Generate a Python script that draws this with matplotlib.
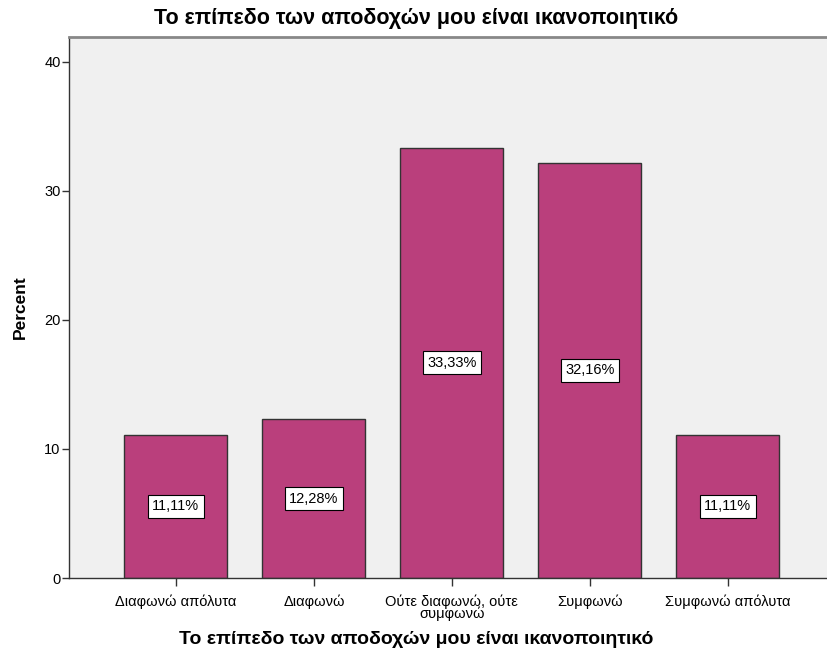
import matplotlib
matplotlib.use("Agg")
import matplotlib.pyplot as plt

categories = ["Διαφωνώ απόλυτα", "Διαφωνώ", "Ούτε διαφωνώ, ούτε\nσυμφωνώ", "Συμφωνώ", "Συμφωνώ απόλυτα"]
percents = [11.11, 12.28, 33.33, 32.16, 11.11]
labels = ["11,11%", "12,28%", "33,33%", "32,16%", "11,11%"]
title = "Το επίπεδο των αποδοχών μου είναι ικανοποιητικό"

plt.rcParams['font.family'] = ['Liberation Sans', 'DejaVu Sans']

fig = plt.figure(figsize=(8.28, 6.59), dpi=100)
ax = fig.add_axes([0.0833, 0.1229, 0.925, 0.821])
ax.set_facecolor('#f0f0f0')

x = range(len(categories))
ax.bar(x, percents, width=0.746, color='#ba3f7c', edgecolor='#333333', linewidth=1, zorder=2)
for xi, v, lab in zip(x, percents, labels):
    ax.text(xi, v / 2, lab, ha='center', va='center', fontsize=10.5, zorder=3,
            bbox=dict(boxstyle='square,pad=0.3', facecolor='white', edgecolor='black', linewidth=0.8))

ax.set_xlim(-0.775, 4.775)
ax.set_ylim(0, 41.9)
ax.set_yticks([0, 10, 20, 30, 40])
ax.set_xticks(list(x))
ax.set_xticklabels(categories, fontsize=10.5, linespacing=0.8)
ax.tick_params(axis='y', labelsize=10.5, length=5, width=1, color='#333333', pad=1)
ax.tick_params(axis='x', length=6, width=1, color='#333333', pad=6)

for s in ['left', 'bottom']:
    ax.spines[s].set_color('#333333')
    ax.spines[s].set_linewidth(1)
ax.spines['top'].set_color('#888888')
ax.spines['top'].set_linewidth(2)
ax.spines['right'].set_visible(False)

ax.set_ylabel("Percent", fontsize=12.5, fontweight='bold', labelpad=12)
# x-axis title centred on the figure (the plot frame runs past the right edge)
fig.text(0.503, 0.029, title, ha='center', va='center', fontsize=14, fontweight='bold')
fig.text(0.503, 0.972, title, ha='center', va='center', fontsize=15.5, fontweight='bold')

fig.savefig("out.png", dpi=100)
